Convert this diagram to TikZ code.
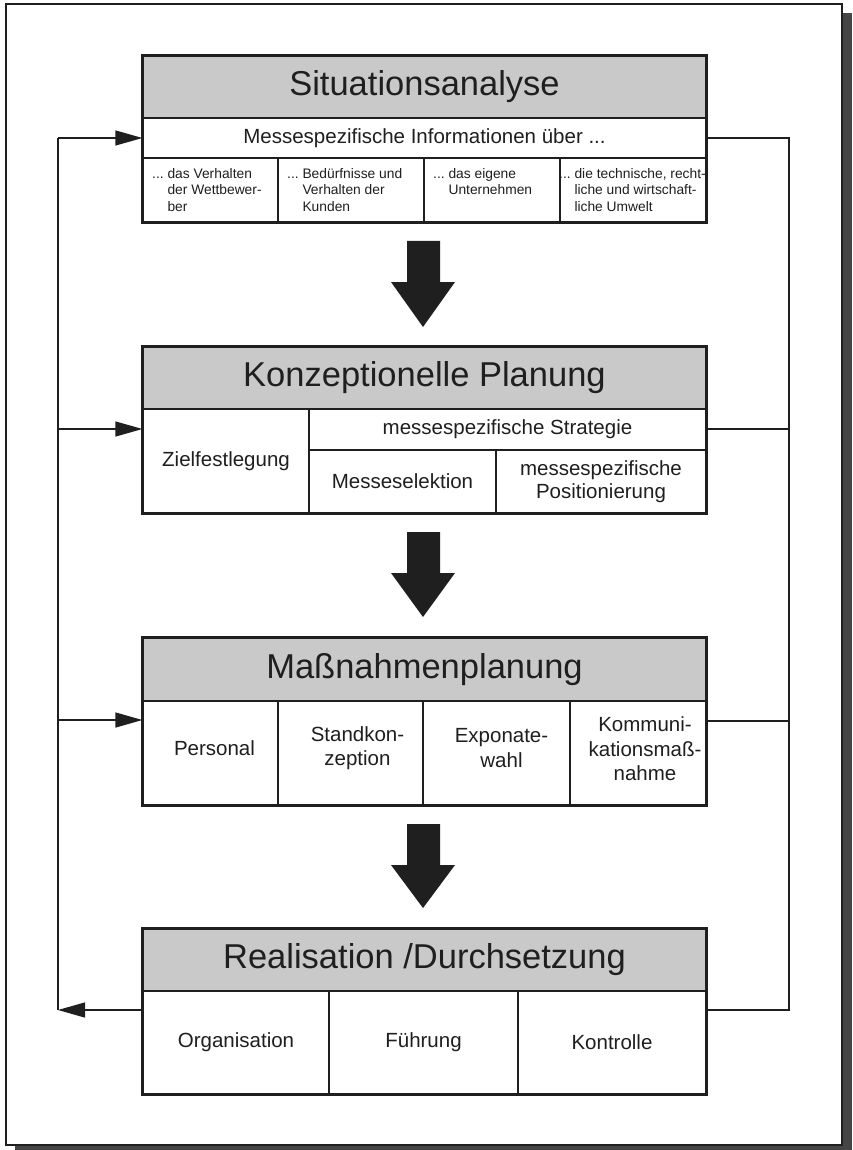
\documentclass[tikz,border=0pt]{standalone}
\usepackage{fontspec}
\setmainfont{Liberation Sans}
\usetikzlibrary{arrows.meta}
\definecolor{headgray}{rgb}{0.79,0.79,0.79}
\definecolor{ink}{rgb}{0.12,0.12,0.12}
\definecolor{shadowgray}{rgb}{0.27,0.27,0.27}

% a rectangular cell given by its corners (x1,y1) and (x2,y2)
\newcommand\cellnode[6][]{%
  \node[cell,#1,minimum width={(#4-#2)*1pt},minimum height={(#5-#3)*1pt}]
    (#6) at ({(#2+#4)/2},{(#3+#5)/2})}
% big downward block arrow: shaft top, head top, tip
\newcommand\blockarrow[3]{%
  \fill[blockfill] (407,#1) -- (440,#1) -- (440,#2) -- (455,#2) -- (423,#3)
    -- (391,#2) -- (407,#2) -- cycle;}
\newcommand\hang{\hphantom{...~}}

\begin{document}
\begin{tikzpicture}[x=1pt,y=-1pt,
  cell/.style={draw=ink, line width=1.3pt, inner sep=0pt, align=center, text=ink,
    font=\fontsize{20.5}{24.5}\selectfont},
  head/.style={fill=headgray, font=\fontsize{34.5}{40}\selectfont},
  small/.style={font=\fontsize{13.8}{16.6}\selectfont, align=left, inner sep=0pt,
    anchor=north west, text=ink},
  outline/.style={draw=ink, line width=2pt},
  loop/.style={draw=ink, line width=1.3pt},
  tip/.style={-{Triangle[length=27pt,width=15pt]}},
  blockfill/.style={fill=ink},
]
\useasboundingbox (0,0) rectangle (852,1150);
\fill[white] (0,0) rectangle (852,1150);

% page frame with drop shadow
\fill[shadowgray] (15,13) rectangle (852,1150);
\draw[ink, line width=1.6pt, fill=white] (6,4) rectangle (842,1145);

% ---- Situationsanalyse ----
\cellnode[head]{143}{56}{706}{118}{sa-head} {Situationsanalyse};
\cellnode{143}{118}{706}{158}{sa-info} {\raisebox{-3pt}{Messespezifische Informationen über ...}};
\cellnode{143}{158}{278}{222}{sa-c1} {};
\cellnode{278}{158}{424}{222}{sa-c2} {};
\cellnode{424}{158}{560}{222}{sa-c3} {};
\cellnode{560}{158}{706}{222}{sa-c4} {};
\node[small] (sa-t1) at (152,168) {...~das Verhalten\\\hang der Wettbewer-\\\hang ber};
\node[small] (sa-t2) at (287,168) {...~Bedürfnisse und\\\hang Verhalten der\\\hang Kunden};
\node[small] (sa-t3) at (433,168) {...~das eigene\\\hang Unternehmen};
\node[small] (sa-t4) at (559,168) {...~die technische, recht-\\\hang liche und wirtschaft-\\\hang liche Umwelt};
\draw[outline] (sa-head.north west) rectangle (sa-c4.south east);

\blockarrow{241}{282}{327}

% ---- Konzeptionelle Planung ----
\cellnode[head]{143}{347}{706}{409}{kp-head} {Konzeptionelle Planung};
\cellnode{143}{409}{309}{513}{kp-ziel} {Zielfestlegung};
\cellnode{309}{409}{706}{450}{kp-strat} {\raisebox{-3pt}{messespezifische Strategie}};
\cellnode{309}{450}{496}{513}{kp-sel} {\raisebox{-3pt}{Messeselektion}};
\cellnode{496}{450}{706}{513}{kp-pos} {\raisebox{-4pt}{\shortstack{messespezifische\\[1pt]Positionierung}}};
\draw[outline] (kp-head.north west) rectangle (kp-pos.south east);

\blockarrow{532}{573}{617}

% ---- Maßnahmenplanung ----
\cellnode[head]{143}{638}{706}{701}{mp-head} {Maßnahmenplanung};
\cellnode{143}{701}{278}{805}{mp-c1} {};
\cellnode{278}{701}{423}{805}{mp-c2} {};
\cellnode{423}{701}{570}{805}{mp-c3} {};
\cellnode{570}{701}{706}{805}{mp-c4} {};
\node[cell, draw=none] (mp-t1) at ([xshift=4pt,yshift=5pt]mp-c1.center) {Personal};
\node[cell, draw=none] (mp-t2) at ([xshift=7pt,yshift=5pt]mp-c2.center) {Standkon-\\zeption};
\node[cell, draw=none] (mp-t3) at ([xshift=5pt,yshift=5pt]mp-c3.center) {Exponate-\\wahl};
\node[cell, draw=none] (mp-t4) at ([xshift=7pt,yshift=4pt]mp-c4.center) {Kommuni-\\kationsmaß-\\nahme};
\draw[outline] (mp-head.north west) rectangle (mp-c4.south east);

\blockarrow{824}{865}{908}

% ---- Realisation /Durchsetzung ----
\cellnode[head]{143}{929}{706}{991}{rd-head} {Realisation /Durchsetzung};
\cellnode{143}{991}{329}{1094}{rd-c1} {Organisation};
\cellnode{329}{991}{518}{1094}{rd-c2} {Führung};
\cellnode{518}{991}{706}{1094}{rd-c3} {Kontrolle};
\draw[outline] (rd-head.north west) rectangle (rd-c3.south east);

% ---- feedback loop ----
\coordinate (L1) at (58,138);
\coordinate (L2) at (58,429);
\coordinate (L3) at (58,720);
\coordinate (L4) at (58,1010);
\coordinate (R1) at (789,138);
\coordinate (R2) at (789,429);
\coordinate (R3) at (789,721);
\coordinate (R4) at (789,1010);

\draw[loop] (L1) -- (L4);
\draw[loop,tip] (L1) -- (sa-info.west);
\draw[loop,tip] (L2) -- (L2 -| kp-ziel.west);
\draw[loop,tip] (L3) -- (L3 -| mp-c1.west);
\draw[loop,tip] (L4 -| rd-c1.west) -- (L4);

\draw[loop] (sa-info.east) -- (R1) -- (R4) -- (R4 -| rd-c3.east);
\draw[loop] (R2 -| kp-strat.east) -- (R2);
\draw[loop] (R3 -| mp-c4.east) -- (R3);
\end{tikzpicture}
\end{document}
